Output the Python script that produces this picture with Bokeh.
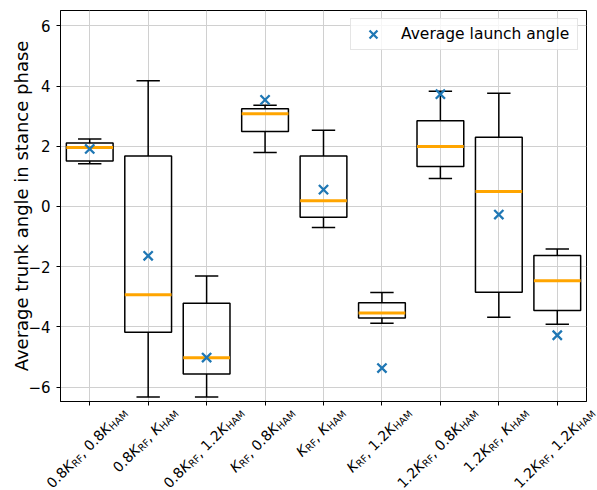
import math
from bokeh.plotting import figure
from bokeh.models import Range1d, FixedTicker, ColumnDataSource
from bokeh.embed import file_html
from bokeh.resources import INLINE

# ---------------- data ----------------
positions = [1, 2, 3, 4, 5, 6, 7, 8, 9]
coef_rf = ["0.8", "0.8", "0.8", "", "", "", "1.2", "1.2", "1.2"]
coef_ham = ["0.8", "", "1.2", "0.8", "", "1.2", "0.8", "", "1.2"]
whisker_low = [1.42, -6.33, -6.33, 1.79, -0.70, -3.88, 0.93, -3.68, -3.91]
q1 = [1.51, -4.18, -5.57, 2.49, -0.36, -3.71, 1.33, -2.85, -3.46]
median = [1.96, -2.93, -5.03, 3.08, 0.19, -3.54, 1.99, 0.50, -2.47]
q3 = [2.11, 1.68, -3.22, 3.25, 1.68, -3.20, 2.85, 2.30, -1.63]
whisker_high = [2.24, 4.18, -2.31, 3.36, 2.53, -2.86, 3.83, 3.76, -1.41]
mean_angle = [1.91, -1.64, -5.02, 3.54, 0.56, -5.37, 3.73, -0.27, -4.28]
y_ticks = [-6, -4, -2, 0, 2, 4, 6]
y_label = "Average trunk angle in stance phase"
legend_label = "Average launch angle"

# ---------------- layout ----------------
W = 597
H1 = 409          # main plot height
H2 = 81           # strip below holding the rotated tick labels
FL, FR, FT, FB = 60, 11, 10, 8
FW, FH = W - FL - FR, H1 - FT - FB
X0, X1 = 0.5, 9.5
Y0, Y1 = -6.48, 6.51
FONT = "DejaVu Sans"

def px_to_x(px):
    return X0 + (px - FL) / FW * (X1 - X0)

p = figure(width=W, height=H1, output_backend="svg", toolbar_location=None,
           x_range=Range1d(X0, X1), y_range=Range1d(Y0, Y1),
           min_border_left=FL, min_border_right=FR, min_border_top=FT,
           min_border_bottom=FB)
p.outline_line_color = "black"
p.outline_line_width = 1
p.background_fill_color = "white"

for ax in (p.xaxis[0], p.yaxis[0]):
    ax.axis_line_color = "black"
    ax.major_tick_line_color = "black"
    ax.major_tick_in = 0
    ax.major_tick_out = 4
    ax.minor_tick_line_color = None
    ax.major_label_text_font = FONT
    ax.major_label_text_color = "black"

p.xaxis.ticker = FixedTicker(ticks=positions)
p.xaxis.major_label_overrides = {i: "" for i in positions}
p.xaxis.major_label_text_font_size = "1px"
p.xaxis.major_label_standoff = 0
p.yaxis.ticker = FixedTicker(ticks=y_ticks)
p.yaxis.major_label_text_font_size = "15px"
p.yaxis.major_label_standoff = 6
p.yaxis.major_label_overrides = {t: (str(t) if t >= 0 else "\u2212" + str(-t)) for t in y_ticks}
p.yaxis.axis_label = y_label
p.yaxis.axis_label_text_font = FONT
p.yaxis.axis_label_text_font_size = "18px"
p.yaxis.axis_label_text_font_style = "normal"
p.yaxis.axis_label_text_color = "black"
p.yaxis.axis_label_standoff = -7

p.grid.grid_line_color = "#d0d0d0"
p.grid.grid_line_width = 1

# ---------------- boxes ----------------
left = [x - 0.4 for x in positions]
right = [x + 0.4 for x in positions]
p.quad(left=left, right=right, bottom=q1, top=q3, fill_alpha=0,
       line_color="black", line_width=1.5)
p.segment(x0=positions, y0=q3, x1=positions, y1=whisker_high, line_color="black", line_width=1.5)
p.segment(x0=positions, y0=q1, x1=positions, y1=whisker_low, line_color="black", line_width=1.5)
cap_l = [x - 0.2 for x in positions]
cap_r = [x + 0.2 for x in positions]
p.segment(x0=cap_l, y0=whisker_high, x1=cap_r, y1=whisker_high, line_color="black", line_width=1.5)
p.segment(x0=cap_l, y0=whisker_low, x1=cap_r, y1=whisker_low, line_color="black", line_width=1.5)
p.segment(x0=left, y0=median, x1=right, y1=median, line_color="#ffa500", line_width=3)
p.scatter(positions, mean_angle, marker="x", size=13, line_width=2.3,
          line_color="#1f77b4", legend_label=legend_label)

# ---------------- legend ----------------
lg = p.legend[0]
lg.location = "top_right"
lg.margin = 8
lg.padding = 1
lg.glyph_width = 42
lg.glyph_height = 28
lg.label_height = 28
lg.label_width = 175
lg.label_standoff = 7
lg.label_text_font = FONT
lg.label_text_font_size = "15.5px"
lg.label_text_color = "black"
lg.label_text_baseline = "middle"
lg.border_line_color = "#cccccc"
lg.border_line_width = 1
lg.background_fill_alpha = 0.8

# ---------------- rotated x tick labels with subscripts (strip below) ----------------
q = figure(width=W, height=H2, output_backend="svg", toolbar_location=None,
           x_range=Range1d(px_to_x(0), px_to_x(W)), y_range=Range1d(0, H2),
           min_border=0, min_border_left=0, min_border_right=0,
           min_border_top=0, min_border_bottom=0,
           x_axis_location=None, y_axis_location=None)
q.outline_line_color = None
q.grid.visible = False
q.background_fill_color = "white"

EM = {"0": 0.636, "1": 0.636, "2": 0.636, "8": 0.636, ".": 0.318, ",": 0.318,
      " ": 0.318, "K": 0.656, "R": 0.695, "F": 0.575, "H": 0.752, "A": 0.684, "M": 0.863}
FS = 14
SUB = 0.7
DROP = 0.2 * FS
c = s = math.sqrt(0.5)

groups = {"normal": dict(x=[], y=[], t=[]), "italic": dict(x=[], y=[], t=[]),
          "sub": dict(x=[], y=[], t=[])}
for i, pos in enumerate(positions):
    pieces = []
    if coef_rf[i]:
        pieces.append((coef_rf[i], "normal"))
    pieces.append(("K", "italic"))
    pieces.append(("RF", "sub"))
    pieces.append((", " + coef_ham[i], "normal"))
    pieces.append(("K", "italic"))
    pieces.append(("HAM", "sub"))
    widths = [sum(EM[ch] for ch in t) * (FS * SUB if kind == "sub" else FS) for t, kind in pieces]
    total = sum(widths)
    tick_px = FL + (pos - X0) / (X1 - X0) * FW
    bx = tick_px - total * c / 2 - 3
    by = (FT + FH) + 8.5 + total * s - H1     # px below the top of the strip
    a = 0.0
    for (t, kind), w in zip(pieces, widths):
        px = bx + a * c
        py = by - a * s
        if kind == "sub":
            px += DROP * s
            py += DROP * c
        g = groups[kind]
        g["x"].append(px_to_x(px))
        g["y"].append(H2 - py)
        g["t"].append(t)
        a += w

for kind, g in groups.items():
    q.text(x="x", y="y", text="t", source=ColumnDataSource(g), angle=math.pi / 4,
           text_align="left", text_baseline="alphabetic", text_font={"value": FONT},
           text_font_style="italic" if kind == "italic" else "normal",
           text_font_size=f"{(FS * SUB if kind == 'sub' else FS):.2f}px", text_color="black")

open("out.html", "w").write(file_html([p, q], INLINE))
